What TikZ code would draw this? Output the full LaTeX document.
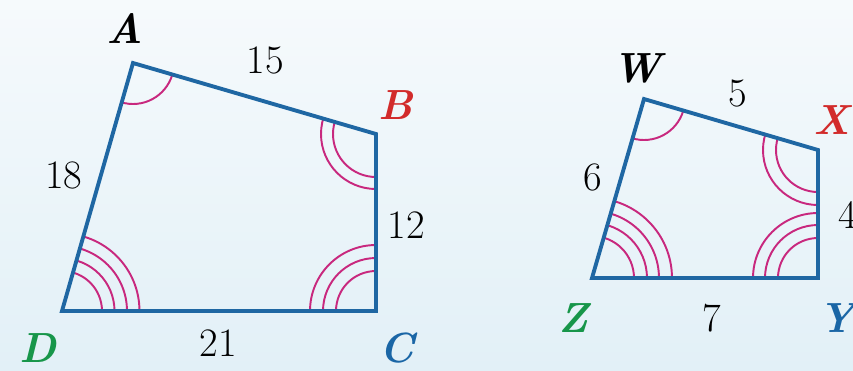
\documentclass[tikz,border=0pt]{standalone}
\usepackage{tikz}
\usetikzlibrary{positioning, calc}
\usepackage{xcolor}
\definecolor{edgecol}{HTML}{1F67A3}
\definecolor{markcol}{HTML}{C8287E}
\definecolor{redcol}{HTML}{D22B2B}
\definecolor{bluecol}{HTML}{1A66A6}
\definecolor{greencol}{HTML}{17964A}
\definecolor{bgtop}{HTML}{F6FAFC}
\definecolor{bgbot}{HTML}{E2F0F7}

\begin{document}
\begin{tikzpicture}[
  x=0.02cm, y=-0.02cm,
  side/.style={draw=edgecol, line width=2.2pt, line join=miter},
  angmark/.style={draw=markcol, line width=1.1pt},
  vert/.style={font=\fontsize{24}{24}\selectfont\bfseries\itshape},
  len/.style={font=\fontsize{23}{23}\selectfont}
]
\useasboundingbox (0,0) rectangle (853,370);
\clip (0,0) rectangle (853,370);
\shade[top color=bgtop, bottom color=bgbot] (0,0) rectangle (853,370);

% first quadrilateral
\coordinate (A) at (133,63);
\coordinate (B) at (376,134);
\coordinate (C) at (376,311);
\coordinate (D) at (62,311);

% second quadrilateral
\coordinate (W) at (644,99);
\coordinate (X) at (818,150);
\coordinate (Y) at (818,278);
\coordinate (Z) at (592,278);

% angle marks
\begin{scope}
  \clip (A) -- (B) -- (C) -- (D) -- cycle;
  \draw[angmark] (A) circle[radius=0.82cm];
  \foreach \r in {0.86,1.1} \draw[angmark] (B) circle[radius=\r cm];
  \foreach \r in {0.8,1.06,1.32} \draw[angmark] (C) circle[radius=\r cm];
  \foreach \r in {0.8,1.05,1.3,1.55} \draw[angmark] (D) circle[radius=\r cm];
\end{scope}
\begin{scope}
  \clip (W) -- (X) -- (Y) -- (Z) -- cycle;
  \draw[angmark] (W) circle[radius=0.82cm];
  \foreach \r in {0.84,1.1} \draw[angmark] (X) circle[radius=\r cm];
  \foreach \r in {0.8,1.06,1.3} \draw[angmark] (Y) circle[radius=\r cm];
  \foreach \r in {0.84,1.1,1.34,1.6} \draw[angmark] (Z) circle[radius=\r cm];
\end{scope}

\draw[side] (A) -- (B) -- (C) -- (D) -- cycle;
\draw[side] (W) -- (X) -- (Y) -- (Z) -- cycle;

% vertex labels
\node[vert] (lA) at (125,29) {A};
\node[vert, text=redcol] (lB) at (396,105) {B};
\node[vert, text=bluecol] (lC) at (397,348) {C};
\node[vert, text=greencol] (lD) at (38,348) {D};
\node[vert] (lW) at (637,68) {W};
\node[vert, text=redcol] (lX) at (832,120) {X};
\node[vert, text=bluecol] (lY) at (837,318) {Y};
\node[vert, text=greencol] (lZ) at (573,318) {Z};

% side lengths
\node[len] (ab) at (265,60) {15};
\node[len] (ad) at (64,175) {18};
\node[len] (bc) at (406,225) {12};
\node[len] (dc) at (218,343) {21};
\node[len] (wx) at (738,93) {5};
\node[len] (wz) at (593,177) {6};
\node[len] (xy) at (848,215) {4};
\node[len] (zy) at (712,318) {7};
\end{tikzpicture}
\end{document}
